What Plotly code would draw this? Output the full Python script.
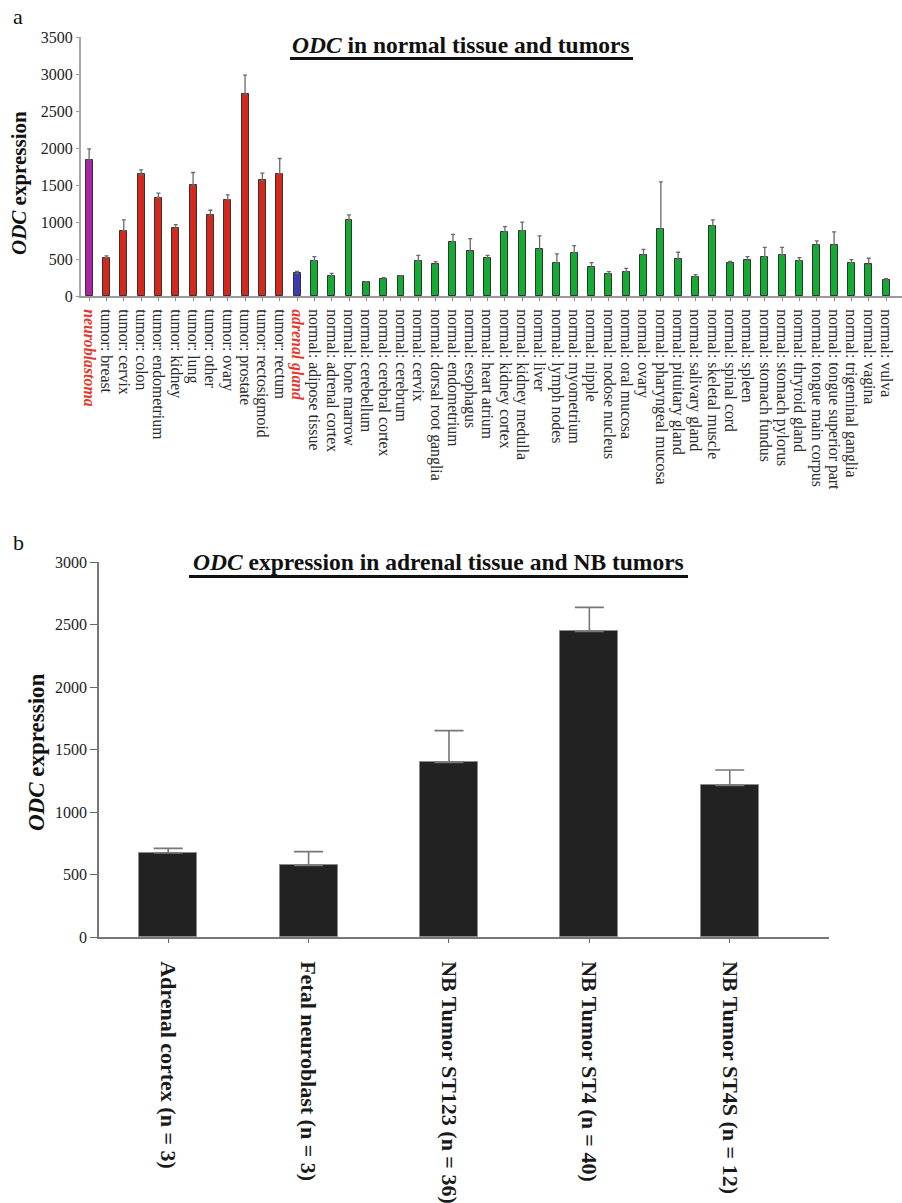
import plotly.graph_objects as go

# ---------------- Panel a data ----------------
tissues_a = [
    "neuroblastoma",
    "tumor: breast", "tumor: cervix", "tumor: colon", "tumor: endometrium", "tumor: kidney",
    "tumor: lung", "tumor: other", "tumor: ovary", "tumor: prostate", "tumor: rectosigmoid",
    "tumor: rectum",
    "adrenal gland",
    "normal: adipose tissue", "normal: adrenal cortex", "normal: bone marrow", "normal: cerebellum",
    "normal: cerebral cortex", "normal: cerebrum", "normal: cervix", "normal: dorsal root ganglia",
    "normal: endometrium", "normal: esophagus", "normal: heart atrium", "normal: kidney cortex",
    "normal: kidney medulla", "normal: liver", "normal: lymph nodes", "normal: myometrium",
    "normal: nipple", "normal: nodose nucleus", "normal: oral mucosa", "normal: ovary",
    "normal: pharyngeal mucosa", "normal: pituitary gland", "normal: salivary gland",
    "normal: skeletal muscle", "normal: spinal cord", "normal: spleen", "normal: stomach fundus",
    "normal: stomach pylorus", "normal: thryroid gland", "normal: tongue main corpus",
    "normal: tongue superior part", "normal: trigeminal ganglia", "normal: vagina", "normal: vulva",
]
groups_a = ["nb"] + ["tumor"] * 11 + ["adrenal"] + ["normal"] * 34
values_a = [
    1836,
    519, 884, 1642, 1331, 916, 1497, 1096, 1303, 2724, 1561, 1655,
    307,
    478, 271, 1024, 185, 230, 266, 478, 428, 731, 604, 514, 866, 884, 631, 447, 586,
    388, 298, 329, 555, 907, 496, 262, 952, 447, 483, 532, 559, 478, 690, 686, 451,
    428, 216,
]
upper_a = [
    1989,
    541, 1028, 1705, 1389, 965, 1669, 1159, 1367, 2986, 1660, 1858,
    334,
    532, 307, 1096, 194, 248, 275, 550, 465, 834, 776, 550, 938, 997, 812, 568, 681,
    451, 329, 374, 631, 1543, 591, 289, 1028, 469, 532, 658, 658, 519, 744, 866, 492,
    510, 235,
]
y_ticks_a = [0, 500, 1000, 1500, 2000, 2500, 3000, 3500]

# ---------------- Panel b data ----------------
groups_b = ["Adrenal cortex (n = 3)", "Fetal neuroblast (n = 3)", "NB Tumor ST123 (n = 36)",
            "NB Tumor ST4 (n = 40)", "NB Tumor ST4S (n = 12)"]
values_b = [672, 573, 1397, 2445, 1213]
upper_b = [709, 683, 1651, 2637, 1336]
y_ticks_b = [0, 500, 1000, 1500, 2000, 2500, 3000]

W, H = 902, 1203
FONT = "Liberation Serif, Times New Roman, serif"


def px(x):
    return x / W


def py(y):
    return (H - y) / H


color_map = {"nb": "#a726a6", "tumor": "#d3281b", "adrenal": "#3c3cae", "normal": "#14ab33"}
bar_colors = [color_map[g] for g in groups_a]
ticktext_a = []
for t, g in zip(tissues_a, groups_a):
    if g in ("nb", "adrenal"):
        ticktext_a.append("<span style='color:#e8352b'><b><i>%s</i></b></span>" % t)
    else:
        ticktext_a.append(t)

fig = go.Figure()

fig.add_trace(go.Bar(
    x=tissues_a, y=values_a, width=0.4,
    marker=dict(color=bar_colors, line=dict(color="#333333", width=1)),
    error_y=dict(type="data", symmetric=False,
                 array=[u - v for u, v in zip(upper_a, values_a)],
                 arrayminus=[0] * len(values_a),
                 color="#6a6a6a", thickness=1.3, width=2),
    xaxis="x", yaxis="y", showlegend=False,
))

fig.add_trace(go.Bar(
    x=groups_b, y=values_b, width=0.414,
    marker=dict(color="#222222", line=dict(color="#8a8a8a", width=1)),
    error_y=dict(type="data", symmetric=False,
                 array=[u - v for u, v in zip(upper_b, values_b)],
                 arrayminus=[0] * len(values_b),
                 color="#777777", thickness=1.6, width=14.5),
    xaxis="x2", yaxis="y2", showlegend=False,
))

fig.update_layout(
    width=W, height=H,
    margin=dict(l=0, r=0, t=0, b=0),
    paper_bgcolor="white", plot_bgcolor="white",
    font=dict(family=FONT, color="#222222"),
    bargap=0,
    xaxis=dict(
        domain=[px(81), 1.0], anchor="y",
        range=[-0.47, 46.92], type="category",
        tickmode="array", tickvals=tissues_a, ticktext=ticktext_a,
        tickangle=90, tickfont=dict(size=15.8, family=FONT, color="#2a2a2a"),
        ticks="outside", ticklen=3, tickcolor="#888888",
        showline=True, linecolor="#9a9a9a", linewidth=2,
        showgrid=False, zeroline=False, automargin=False,
        ticklabelstandoff=5,
    ),
    yaxis=dict(
        domain=[py(296), py(37)], anchor="x",
        range=[0, 3500], tickmode="array", tickvals=y_ticks_a,
        tickfont=dict(size=16, family=FONT, color="#222222"),
        ticks="outside", ticklen=3, tickcolor="#9a9a9a",
        showline=True, linecolor="#a8a8a8", linewidth=2,
        showgrid=False, zeroline=False, automargin=False,
    ),
    xaxis2=dict(
        domain=[px(99), px(829)], anchor="y2",
        range=[-0.493, 4.707], type="category",
        tickangle=90, tickfont=dict(size=22, family=FONT, color="#1a1a1a"),
        tickmode="array", tickvals=groups_b, ticktext=["<b>%s</b>" % g for g in groups_b],
        ticks="outside", ticklen=4, tickcolor="#666666",
        showline=True, linecolor="#777777", linewidth=1.5,
        showgrid=False, zeroline=False, automargin=False,
        ticklabelstandoff=14,
    ),
    yaxis2=dict(
        domain=[py(937), py(562)], anchor="x2",
        range=[0, 3000], tickmode="array", tickvals=y_ticks_b,
        tickfont=dict(size=16, family=FONT, color="#222222"),
        ticks="outside", ticklen=7, tickcolor="#666666",
        showline=True, linecolor="#777777", linewidth=1.5,
        showgrid=False, zeroline=False, automargin=False,
    ),
    annotations=[
        dict(text="a", x=px(11), y=py(16), xref="paper", yref="paper",
             xanchor="left", yanchor="middle", showarrow=False,
             font=dict(size=22, family=FONT, color="#111111")),
        dict(text="b", x=px(11), y=py(542), xref="paper", yref="paper",
             xanchor="left", yanchor="middle", showarrow=False,
             font=dict(size=22, family=FONT, color="#111111")),
        dict(text="<b><i>ODC</i> in normal tissue and tumors</b>",
             x=px(461.5), y=py(45), xref="paper", yref="paper",
             xanchor="center", yanchor="middle", showarrow=False,
             font=dict(size=23.5, family=FONT, color="#111111")),
        dict(text="<b><i>ODC</i> expression in adrenal tissue and NB tumors</b>",
             x=px(438.5), y=py(562), xref="paper", yref="paper",
             xanchor="center", yanchor="middle", showarrow=False,
             font=dict(size=23.5, family=FONT, color="#111111")),
        dict(text="<b><i>ODC</i> expression</b>",
             x=px(19), y=py(183), xref="paper", yref="paper",
             xanchor="center", yanchor="middle", showarrow=False, textangle=-90,
             font=dict(size=21, family=FONT, color="#111111")),
        dict(text="<b><i>ODC</i> expression</b>",
             x=px(36), y=py(752), xref="paper", yref="paper",
             xanchor="center", yanchor="middle", showarrow=False, textangle=-90,
             font=dict(size=23, family=FONT, color="#111111")),
    ],
    shapes=[
        dict(type="line", xref="paper", yref="paper",
             x0=px(290), x1=px(633), y0=py(58.5), y1=py(58.5),
             line=dict(color="#111111", width=3)),
        dict(type="line", xref="paper", yref="paper",
             x0=px(189), x1=px(688), y0=py(576.5), y1=py(576.5),
             line=dict(color="#111111", width=3)),
    ],
)

# remove the page's default body margin so the figure fills the window exactly
fig.write_html("out.html", config={"displayModeBar": False},
               post_script="document.body.style.margin='0px';")
